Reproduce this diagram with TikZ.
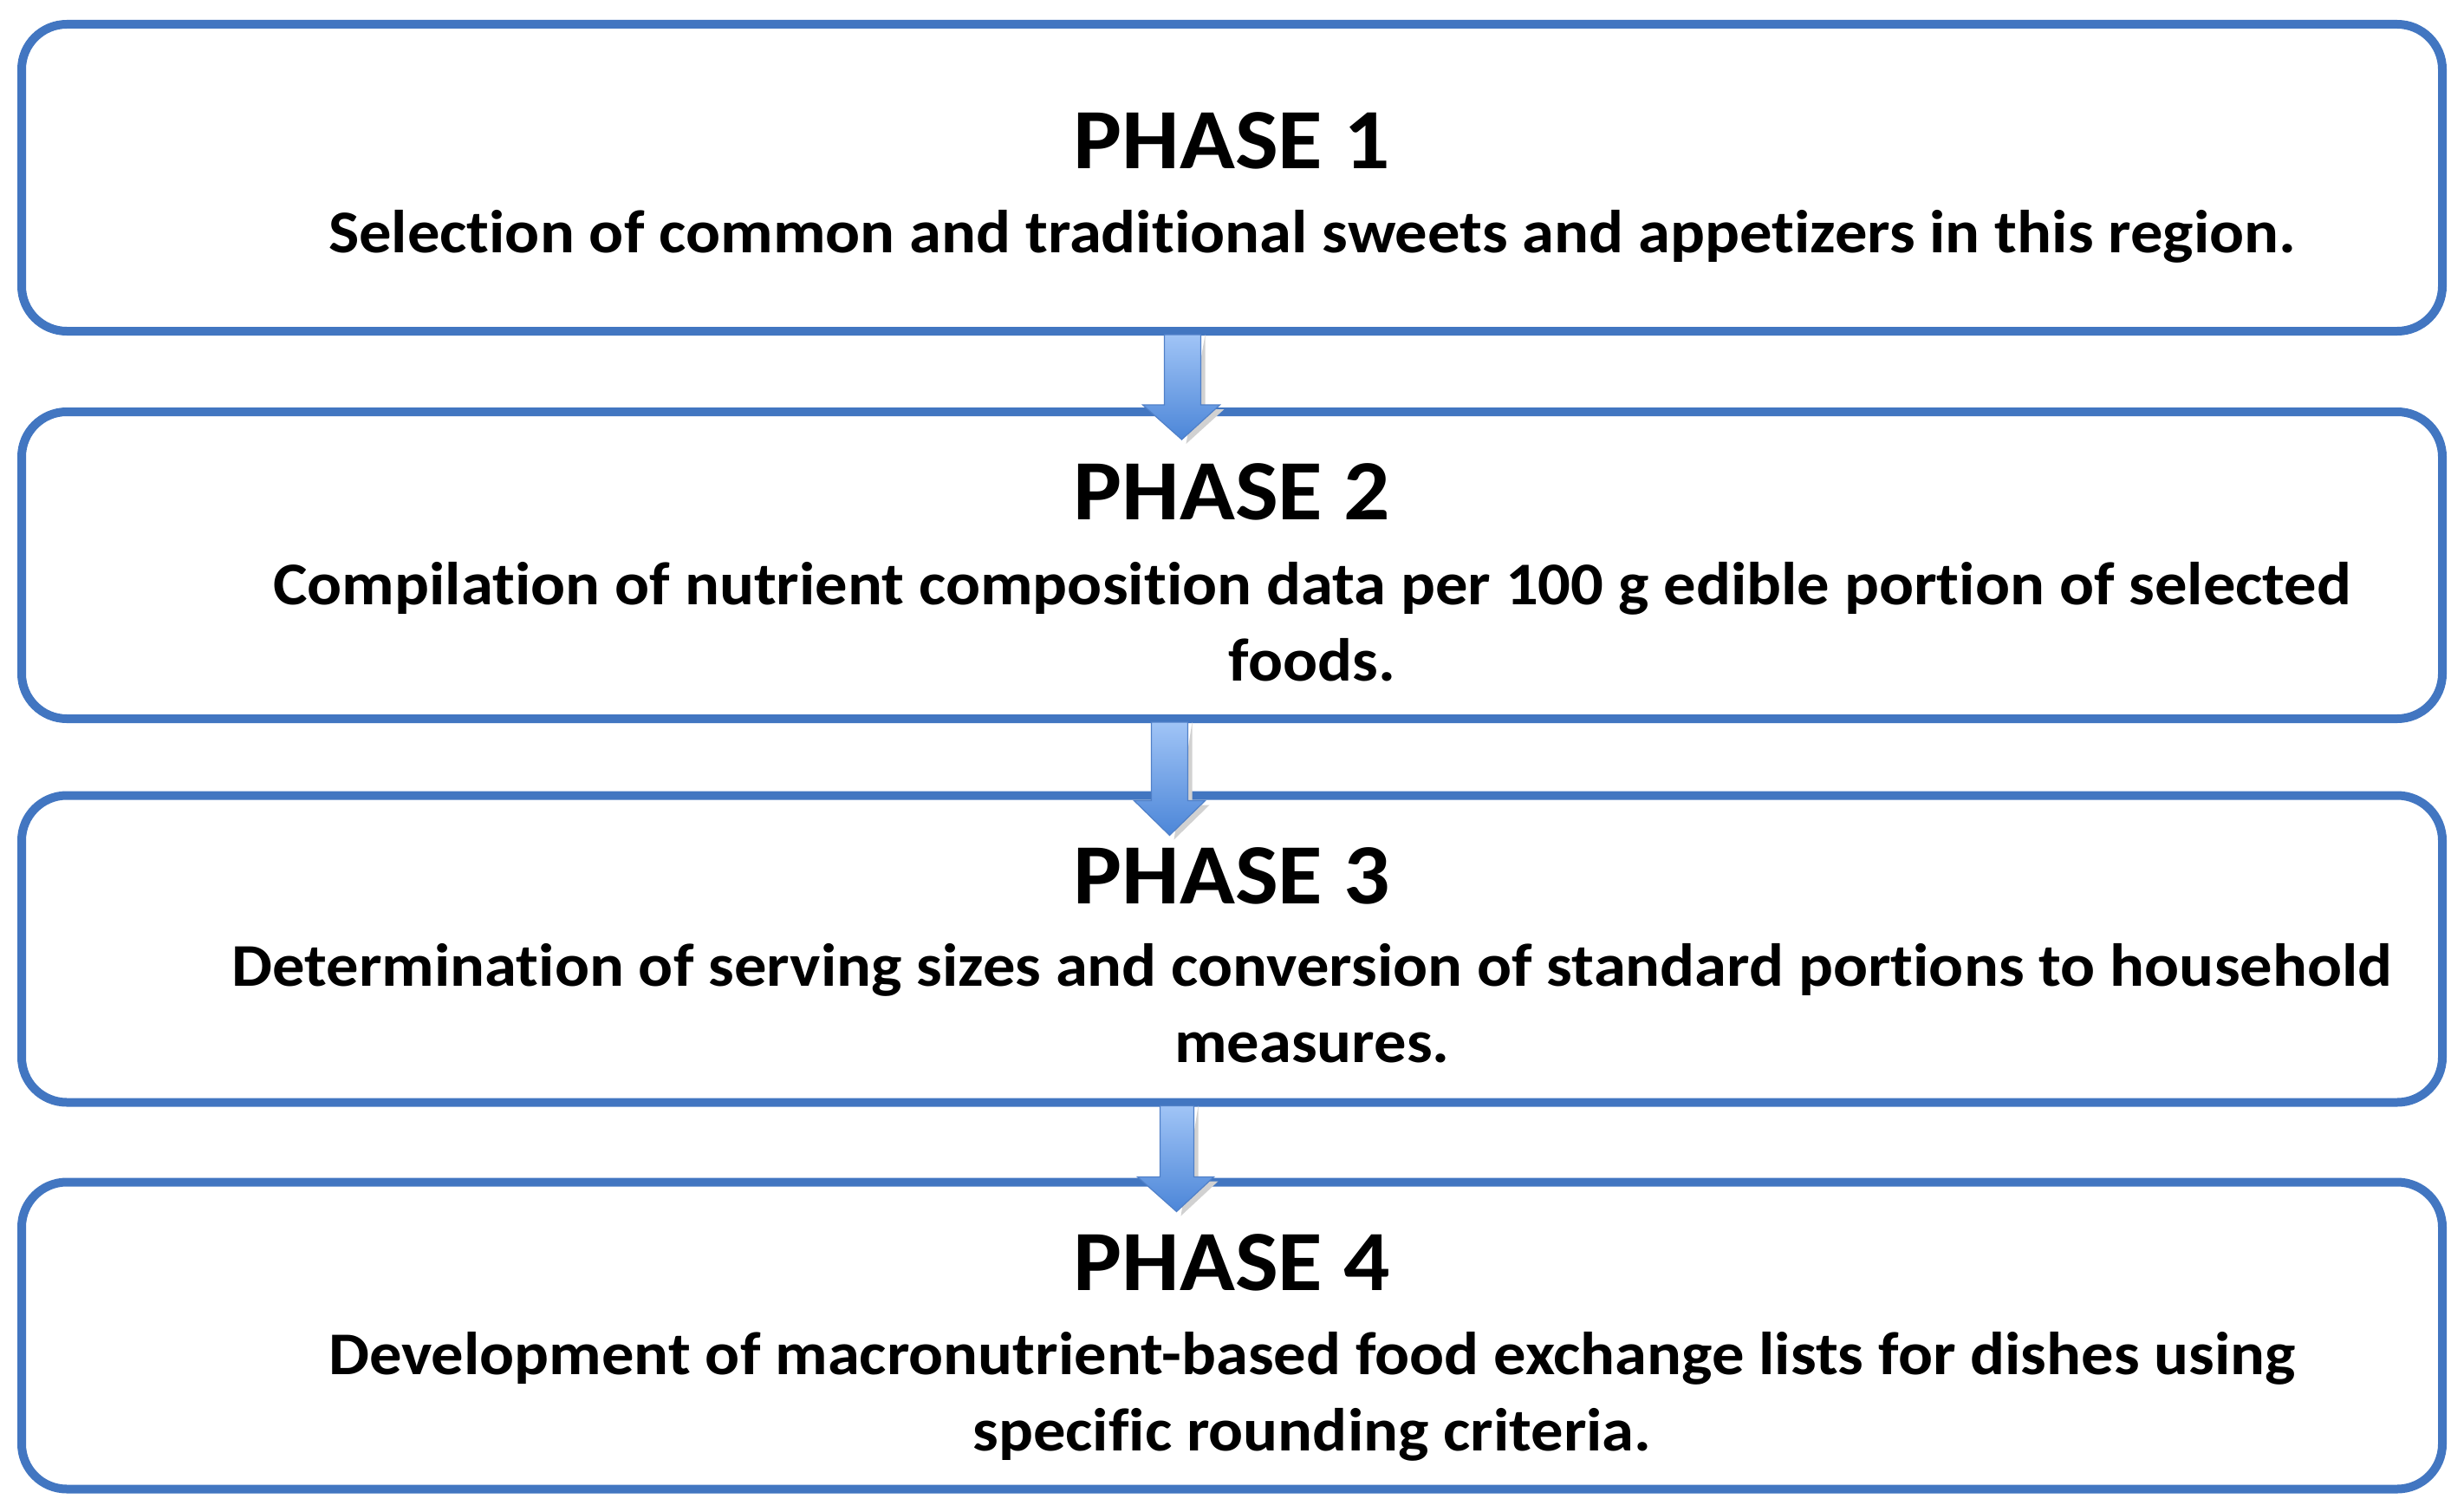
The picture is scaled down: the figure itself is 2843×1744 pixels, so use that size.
\documentclass[tikz,border=0pt]{standalone}
\usepackage{fontspec}
\setmainfont{Carlito}[FakeStretch=1.065,RawFeature={-liga}]
\usetikzlibrary{calc}
\definecolor{boxblue}{RGB}{66,118,193}
\definecolor{arrtop}{RGB}{160,196,246}
\definecolor{arrbot}{RGB}{76,134,216}
\definecolor{arredge}{RGB}{80,128,200}
\tikzset{
  phasebox/.style={draw=boxblue, line width=5pt, rounded corners=26pt,
    minimum width=1396.5pt, minimum height=177pt, inner sep=0pt, outer sep=0pt, fill=white},
  phasetitle/.style={anchor=base, inner sep=0pt, font=\fontsize{49.5}{59}\selectfont\bfseries},
  phasetext/.style={anchor=base, inner sep=0pt, font=\fontsize{35}{44}\selectfont\bfseries},
  flowarrow/.style={top color=arrtop, bottom color=arrbot, draw=arredge, line width=0.6pt, line join=miter},
  shadowarrow/.style={fill=black!18, draw=none}
}
\begin{document}
\begin{tikzpicture}[x=0.5pt,y=-0.5pt]
\useasboundingbox (0,0) rectangle (2843,1744);
\fill[white] (0,0) rectangle (2843,1744);

\node[phasebox] (b1) at (1421.5,205) {};
\node[phasebox] (b2) at (1421.5,652) {};
\node[phasebox] (b3) at (1421.5,1094.5) {};
\node[phasebox] (b4) at (1421.5,1540.5) {};

\node[phasetitle] (t1) at (1421,195) {PHASE 1};
\node[phasetext] (s1) at (1514,292) {Selection of common and traditional sweets and appetizers in this region.};

\node[phasetitle] (t2) at (1421,599) {PHASE 2};
\node[phasetext] (s2a) at (1514,697) {Compilation of nutrient composition data per 100 g edible portion of selected};
\node[phasetext] (s2b) at (1514,785) {foods.};

\node[phasetitle] (t3) at (1421,1042) {PHASE 3};
\node[phasetext] (s3a) at (1514,1137) {Determination of serving sizes and conversion of standard portions to household};
\node[phasetext] (s3b) at (1514,1225) {measures.};

\node[phasetitle] (t4) at (1421,1488) {PHASE 4};
\node[phasetext] (s4a) at (1514,1585) {Development of macronutrient-based food exchange lists for dishes using};
\node[phasetext] (s4b) at (1514,1673) {specific rounding criteria.};

% arrow 1 -> 2
\path[shadowarrow] ($(b1.south)+(-36+5,4)$) -- ($(b2.north)+(-36+5,-8+5)$) -- ($(b2.north)+(-14+5,-8+5)$)
  -- ($(b2.north)+(-58+5,32+5)$) -- cycle;
\path[flowarrow] ($(b1.south)+(-78,4)$) -- ($(b1.south)+(-36,4)$) -- ($(b2.north)+(-36,-8)$)
  -- ($(b2.north)+(-14,-8)$) -- ($(b2.north)+(-58,32)$) -- ($(b2.north)+(-103,-8)$)
  -- ($(b2.north)+(-78,-8)$) -- cycle;
% arrow 2 -> 3
\path[shadowarrow] ($(b2.south)+(-51+5,4)$) -- ($(b3.north)+(-51+5,6+5)$) -- ($(b3.north)+(-31+5,6+5)$)
  -- ($(b3.north)+(-72+5,46+5)$) -- cycle;
\path[flowarrow] ($(b2.south)+(-93,4)$) -- ($(b2.south)+(-51,4)$) -- ($(b3.north)+(-51,6)$)
  -- ($(b3.north)+(-31,6)$) -- ($(b3.north)+(-72,46)$) -- ($(b3.north)+(-113,6)$)
  -- ($(b3.north)+(-93,6)$) -- cycle;
% arrow 3 -> 4
\path[shadowarrow] ($(b3.south)+(-44+5,4)$) -- ($(b4.north)+(-44+5,-6+5)$) -- ($(b4.north)+(-21+5,-6+5)$)
  -- ($(b4.north)+(-64+5,34+5)$) -- cycle;
\path[flowarrow] ($(b3.south)+(-83,4)$) -- ($(b3.south)+(-44,4)$) -- ($(b4.north)+(-44,-6)$)
  -- ($(b4.north)+(-21,-6)$) -- ($(b4.north)+(-64,34)$) -- ($(b4.north)+(-109,-6)$)
  -- ($(b4.north)+(-83,-6)$) -- cycle;
\end{tikzpicture}
\end{document}
